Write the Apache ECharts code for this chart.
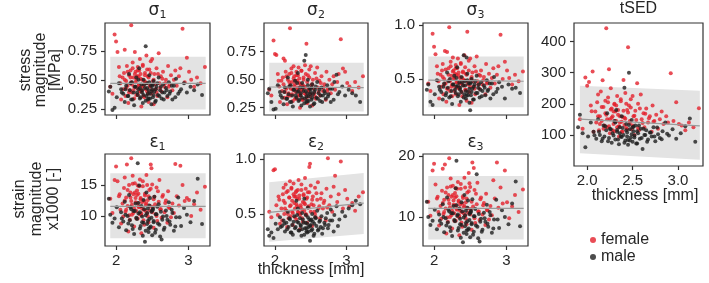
<!DOCTYPE html>
<html>
<head>
<meta charset="utf-8">
<script src="https://cdn.jsdelivr.net/npm/echarts@6/dist/echarts.min.js"></script>
<style>html,body{margin:0;padding:0;background:#fff}#main{width:709px;height:283px}</style>
</head>
<body>
<div id="main"></div>
<script>
// thickness of each subject [mm], shared by all panels
var femaleThickness = [1.92,1.95,1.98,2.00,2.02,2.04,2.06,2.07,2.09,2.10,
  2.11,2.12,2.13,2.14,2.15,2.16,2.17,2.18,2.19,2.20,
  2.21,2.21,2.22,2.23,2.24,2.25,2.25,2.26,2.27,2.28,
  2.29,2.30,2.30,2.31,2.32,2.33,2.34,2.35,2.35,2.36,
  2.37,2.38,2.39,2.40,2.41,2.42,2.43,2.44,2.45,2.46,
  2.47,2.48,2.49,2.50,2.51,2.52,2.53,2.55,2.56,2.57,
  2.59,2.60,2.62,2.63,2.65,2.67,2.69,2.71,2.72,2.74,
  2.76,2.78,2.80,2.82,2.84,2.87,2.89,2.92,2.95,2.98,
  3.01,3.04,3.08,3.12,3.17,3.23,
  2.12,2.14,2.16,2.18,2.20,2.22,2.23,2.24,2.26,2.27,
  2.28,2.29,2.31,2.32,2.33,2.34,2.36,2.37,2.38,2.39,
  2.40,2.41,2.42,2.43,2.44,2.45,2.47,2.48,2.50,2.52,
  2.54,2.56,2.58,2.61,2.64,2.68,2.73,2.05,2.30,2.35];
var maleThickness = [1.90,1.92,1.95,1.98,2.01,2.04,2.07,2.10,2.12,2.14,
  2.16,2.18,2.19,2.21,2.22,2.24,2.25,2.27,2.28,2.30,
  2.31,2.32,2.33,2.35,2.36,2.37,2.38,2.40,2.41,2.42,
  2.43,2.44,2.45,2.46,2.47,2.48,2.49,2.50,2.51,2.52,
  2.53,2.55,2.56,2.58,2.59,2.61,2.63,2.65,2.67,2.69,
  2.71,2.73,2.75,2.78,2.80,2.83,2.86,2.90,2.94,2.98,
  3.03,3.08,3.13,3.19,
  2.13,2.17,2.20,2.23,2.26,2.29,2.31,2.34,2.36,2.39,
  2.41,2.43,2.44,2.46,2.47,2.49,2.50,2.52,2.54,2.55,
  2.57,2.60,2.62,2.64,2.66,2.70,2.74,2.77,2.82,2.88,
  2.33,2.38,2.45,2.51,2.08];

var sigma1Female = [0.44,0.38,0.89,0.83,0.74,0.61,0.47,0.33,0.52,0.42,
  0.56,0.76,0.36,0.49,0.62,0.45,0.30,0.54,0.41,0.58,
  0.97,0.48,0.39,0.65,0.52,0.44,0.34,0.74,0.57,0.50,
  0.43,0.61,0.37,0.53,0.46,0.68,0.55,0.41,0.27,0.50,
  0.63,0.45,0.35,0.56,0.48,0.71,0.40,0.53,0.31,0.59,
  0.44,0.66,0.38,0.68,0.49,0.29,0.55,0.42,0.60,0.36,
  0.73,0.47,0.53,0.40,0.57,0.44,0.50,0.35,0.62,0.46,
  0.54,0.41,0.50,0.58,0.45,0.53,0.60,0.94,0.48,0.69,
  0.57,0.50,0.44,0.52,0.47,0.61,
  0.50,0.43,0.57,0.39,0.52,0.46,0.60,0.41,0.55,0.48,
  0.37,0.53,0.45,0.58,0.40,0.51,0.44,0.62,0.36,0.49,
  0.54,0.42,0.47,0.59,0.38,0.52,0.45,0.56,0.41,0.50,
  0.46,0.39,0.55,0.43,0.51,0.47,0.44,0.53,0.58,0.40];
var sigma1Male = [0.40,0.44,0.24,0.26,0.35,0.47,0.42,0.38,0.31,0.45,
  0.36,0.55,0.41,0.33,0.48,0.39,0.28,0.44,0.52,0.37,
  0.42,0.60,0.34,0.46,0.39,0.30,0.50,0.43,0.79,0.36,
  0.47,0.33,0.41,0.54,0.38,0.45,0.29,0.42,0.35,0.49,
  0.40,0.32,0.44,0.37,0.52,0.41,0.34,0.46,0.39,0.43,
  0.36,0.48,0.40,0.33,0.45,0.51,0.38,0.42,0.47,0.39,
  0.44,0.41,0.46,0.37,
  0.42,0.36,0.47,0.33,0.44,0.39,0.50,0.35,0.41,0.46,
  0.32,0.43,0.38,0.48,0.34,0.40,0.45,0.37,0.31,0.42,
  0.47,0.36,0.44,0.39,0.33,0.41,0.38,0.45,0.35,0.40,
  0.43,0.37,0.34,0.46,0.39];

var sigma2Female = [0.41,0.36,0.85,0.73,0.72,0.55,0.44,0.30,0.49,0.40,
  0.52,0.69,0.34,0.67,0.57,0.42,0.28,0.50,0.38,0.55,
  0.96,0.45,0.36,0.60,0.48,0.41,0.31,0.62,0.53,0.46,
  0.39,0.57,0.33,0.49,0.43,0.61,0.51,0.37,0.25,0.46,
  0.58,0.41,0.32,0.52,0.44,0.63,0.37,0.82,0.29,0.54,
  0.40,0.59,0.35,0.62,0.45,0.27,0.50,0.38,0.56,0.33,
  0.61,0.43,0.49,0.36,0.53,0.40,0.46,0.32,0.57,0.42,
  0.50,0.38,0.46,0.53,0.41,0.48,0.55,0.86,0.60,0.57,
  0.47,0.44,0.40,0.48,0.43,0.53,
  0.46,0.39,0.53,0.35,0.48,0.42,0.56,0.37,0.51,0.44,
  0.33,0.49,0.41,0.54,0.36,0.47,0.40,0.58,0.32,0.45,
  0.50,0.38,0.43,0.55,0.34,0.48,0.41,0.52,0.37,0.46,
  0.42,0.35,0.51,0.39,0.47,0.43,0.40,0.49,0.54,0.36];
var sigma2Male = [0.38,0.42,0.30,0.235,0.24,0.45,0.39,0.34,0.28,0.43,
  0.33,0.52,0.37,0.30,0.45,0.36,0.26,0.41,0.49,0.34,
  0.39,0.56,0.31,0.43,0.36,0.27,0.47,0.40,0.67,0.33,
  0.72,0.30,0.38,0.50,0.35,0.42,0.26,0.39,0.32,0.46,
  0.37,0.29,0.41,0.34,0.48,0.38,0.31,0.43,0.36,0.40,
  0.33,0.45,0.37,0.30,0.42,0.48,0.545,0.39,0.44,0.36,
  0.41,0.38,0.36,0.30,
  0.39,0.33,0.44,0.30,0.41,0.36,0.47,0.32,0.38,0.43,
  0.29,0.40,0.35,0.45,0.31,0.37,0.42,0.34,0.28,0.39,
  0.44,0.33,0.41,0.36,0.30,0.38,0.35,0.42,0.32,0.37,
  0.40,0.34,0.31,0.43,0.36];

var sigma3Female = [0.46,0.39,0.92,0.80,0.73,0.62,0.48,0.32,0.54,0.43,
  0.58,0.64,0.36,0.50,0.76,0.46,0.29,0.75,0.41,0.60,
  0.98,0.49,0.39,0.66,0.53,0.45,0.34,0.70,0.58,0.51,
  0.43,0.63,0.36,0.54,0.47,0.69,0.56,0.41,0.26,0.51,
  0.65,0.46,0.34,0.57,0.49,0.72,0.40,0.55,0.30,0.94,
  0.45,0.67,0.38,0.69,0.50,0.28,0.56,0.43,0.62,0.36,
  0.71,0.48,0.54,0.41,0.58,0.45,0.52,0.36,0.64,0.47,
  0.55,0.42,0.51,0.60,0.46,0.54,0.62,0.91,0.50,0.66,
  0.58,0.51,0.45,0.54,0.48,0.57,
  0.52,0.45,0.59,0.41,0.54,0.48,0.62,0.43,0.57,0.50,
  0.39,0.55,0.47,0.60,0.42,0.53,0.46,0.64,0.38,0.51,
  0.56,0.44,0.49,0.61,0.40,0.54,0.47,0.58,0.43,0.52,
  0.48,0.41,0.57,0.45,0.53,0.49,0.46,0.55,0.60,0.42];
var sigma3Male = [0.40,0.45,0.29,0.26,0.36,0.49,0.43,0.38,0.31,0.46,
  0.35,0.56,0.42,0.33,0.50,0.39,0.27,0.45,0.53,0.37,
  0.43,0.61,0.34,0.47,0.40,0.29,0.52,0.44,0.72,0.36,
  0.48,0.32,0.70,0.55,0.38,0.46,0.28,0.21,0.35,0.50,
  0.41,0.31,0.45,0.37,0.53,0.42,0.33,0.47,0.39,0.44,
  0.35,0.49,0.40,0.32,0.46,0.52,0.38,0.47,0.43,0.32,
  0.45,0.41,0.42,0.37,
  0.43,0.37,0.48,0.34,0.45,0.40,0.51,0.36,0.42,0.47,
  0.33,0.44,0.39,0.49,0.35,0.41,0.46,0.38,0.31,0.43,
  0.48,0.37,0.45,0.40,0.34,0.42,0.39,0.46,0.36,0.41,
  0.44,0.38,0.35,0.47,0.40];

var tsedFemale = [150,120,285,258,270,195,304,110,175,140,
  205,230,115,160,240,145,276,190,130,210,
  443,165,125,220,311,150,105,250,185,160,
  135,200,112,175,145,225,180,128,95,160,
  208,142,110,277,155,235,122,180,382,195,
  138,215,118,225,160,100,178,266,200,115,
  230,150,170,125,185,140,160,110,195,145,
  165,120,150,175,135,160,140,298,145,205,
  135,130,115,140,125,186,
  160,135,190,120,170,150,205,128,182,155,
  115,175,145,195,125,165,140,215,110,158,
  178,132,152,200,118,172,145,188,130,162,
  148,122,185,138,168,154,142,176,198,126];
var tsedMale = [125,165,105,60,95,140,110,88,150,100,
  80,130,95,115,170,90,120,75,105,145,
  85,180,110,70,125,95,160,100,252,82,
  135,108,68,300,118,92,148,78,112,98,
  130,72,105,88,120,55,100,115,85,108,
  95,125,80,102,90,112,140,98,118,88,
  105,128,153,78,
  110,88,128,80,118,98,140,85,105,122,
  75,115,95,132,82,102,125,92,72,112,
  130,90,120,100,78,108,95,124,86,104,
  116,93,84,126,99];

var eps1Female = [12.8,10.5,15.8,18.0,15.6,13.2,11.0,8.8,12.0,9.9,
  14.5,16.2,10.7,13.0,18.3,11.6,7.5,15.0,9.4,13.8,
  19.3,12.4,10.2,16.5,13.5,11.2,8.3,15.3,12.9,10.8,
  14.1,12.1,9.6,13.6,11.4,15.9,12.7,10.1,7.2,12.2,
  14.8,11.0,8.6,13.3,11.8,16.6,10.4,12.6,9.0,14.2,
  10.9,18.3,17.7,15.1,11.5,8.1,13.1,10.3,14.6,9.2,
  12.3,15.8,11.1,9.7,13.4,10.6,12.5,8.9,14.0,11.3,
  9.8,12.0,10.5,18.4,13.2,11.7,18.1,15.0,12.4,12.9,
  12.6,10.0,11.9,13.8,11.0,14.7,
  12.5,11.0,14.2,10.1,13.0,11.8,15.2,10.5,13.8,12.2,
  9.6,13.4,11.5,14.8,10.3,12.9,11.2,15.6,9.3,12.4,
  13.6,10.8,12.0,15.0,9.9,13.2,11.6,14.4,10.6,12.7,
  11.9,10.0,14.0,11.1,13.1,12.1,11.4,13.5,14.9,10.4];
var eps1Male = [12.8,10.2,8.9,9.6,11.4,8.2,10.6,9.1,12.3,7.7,
  10.0,13.4,9.3,11.1,8.5,10.8,7.1,12.0,9.7,18.5,
  10.4,14.9,8.0,11.6,9.0,6.8,12.6,5.85,10.1,13.8,
  8.7,11.2,7.4,9.5,12.9,8.3,10.7,6.9,11.0,9.2,
  13.1,7.8,10.3,8.8,11.9,6.7,6.2,9.9,8.1,10.9,
  9.4,12.2,8.6,10.5,7.6,9.8,13.0,8.4,11.3,10.2,
  9.0,12.4,16.0,8.7,
  10.2,8.8,11.4,7.9,10.8,9.5,12.1,8.4,9.9,11.1,
  7.6,10.5,9.2,11.7,8.1,9.7,10.9,9.0,7.3,10.3,
  11.5,8.6,10.7,9.4,7.8,10.0,9.1,11.0,8.3,9.8,
  10.6,8.9,8.0,11.2,9.6];

var eps2Female = [0.52,0.47,0.90,0.91,0.58,0.49,0.63,0.41,0.55,0.44,
  0.68,0.74,0.50,0.60,0.77,0.53,0.38,0.71,0.46,0.65,
  0.80,0.57,0.48,0.73,0.62,0.51,0.40,0.78,0.66,0.55,
  0.70,0.59,0.45,0.64,0.52,0.81,0.67,0.49,0.36,0.58,
  0.72,0.54,0.43,0.68,0.60,0.83,0.50,0.64,0.42,0.70,
  0.56,0.93,0.96,0.76,0.59,0.39,0.66,0.52,0.74,0.47,
  0.63,0.79,0.57,0.46,0.69,0.55,0.62,0.44,0.73,1.01,
  0.58,0.66,0.52,0.75,0.85,0.61,0.68,0.98,0.55,0.72,
  0.64,0.57,0.60,0.53,0.66,0.70,
  0.62,0.55,0.70,0.50,0.65,0.58,0.74,0.52,0.68,0.60,
  0.47,0.66,0.57,0.72,0.51,0.64,0.56,0.77,0.46,0.61,
  0.67,0.53,0.59,0.73,0.49,0.65,0.57,0.70,0.52,0.63,
  0.58,0.50,0.69,0.55,0.64,0.60,0.56,0.66,0.71,0.51];
var eps2Male = [0.36,0.30,0.33,0.28,0.41,0.36,0.47,0.39,0.44,0.34,
  0.42,0.52,0.38,0.45,0.33,0.40,0.31,0.48,0.37,0.62,
  0.43,0.55,0.35,0.46,0.39,0.30,0.51,0.42,0.64,0.37,
  0.49,0.34,0.41,0.56,0.38,0.45,0.256,0.40,0.35,0.50,
  0.43,0.32,0.47,0.39,0.53,0.36,0.44,0.48,0.37,0.42,
  0.46,0.51,0.40,0.54,0.44,0.49,0.57,0.45,0.52,0.48,
  0.55,0.58,0.62,0.59,
  0.41,0.36,0.46,0.33,0.43,0.38,0.49,0.35,0.40,0.45,
  0.31,0.42,0.37,0.47,0.34,0.39,0.44,0.36,0.30,0.41,
  0.46,0.35,0.43,0.38,0.32,0.40,0.37,0.44,0.34,0.39,
  0.42,0.36,0.33,0.45,0.38];

var eps3Female = [12.5,10.2,17.6,18.7,15.3,13.0,10.8,8.6,11.8,9.7,
  14.3,17.9,10.5,12.8,18.6,11.4,7.3,14.8,9.2,13.6,
  19.6,12.2,10.0,16.3,13.3,11.0,8.1,15.1,12.7,10.6,
  13.9,11.9,9.4,13.4,11.2,15.7,12.5,9.9,7.0,12.0,
  14.6,10.8,8.4,13.1,11.6,16.4,10.2,12.4,8.8,14.0,
  10.7,17.2,15.5,14.9,11.3,7.9,18.9,18.0,14.4,9.0,
  12.1,15.6,10.9,9.5,13.2,10.4,12.3,8.7,13.8,11.1,
  9.6,11.8,10.3,16.0,13.0,18.9,11.5,14.8,12.2,17.6,
  12.4,9.8,11.7,13.6,10.8,14.5,
  12.3,10.8,14.0,9.9,12.8,11.6,15.0,10.3,13.6,12.0,
  9.4,13.2,11.3,14.6,10.1,12.7,11.0,15.4,9.1,12.2,
  13.4,10.6,11.8,14.8,9.7,13.0,11.4,14.2,10.4,12.5,
  11.7,9.8,13.8,10.9,12.9,11.9,11.2,13.3,14.7,10.2];
var eps3Male = [12.5,10.0,8.7,9.4,11.2,8.0,10.4,8.9,12.1,7.5,
  9.8,13.2,9.1,10.9,8.3,10.6,6.9,11.8,9.5,14.7,
  19.2,10.2,7.8,11.4,8.8,6.6,12.4,5.85,9.9,13.6,
  8.5,11.0,7.2,9.3,12.7,8.1,10.5,6.7,10.8,9.0,
  12.9,7.6,10.1,8.6,17.0,6.5,6.0,9.7,7.9,10.7,
  9.2,12.0,8.4,10.3,7.4,9.6,12.8,8.2,11.1,10.0,
  8.8,12.2,15.8,8.5,
  10.0,8.6,11.2,7.7,10.6,9.3,11.9,8.2,9.7,10.9,
  7.4,10.3,9.0,11.5,7.9,9.5,10.7,8.8,7.1,10.1,
  11.3,8.4,10.5,9.2,7.6,9.8,8.9,10.8,8.1,9.6,
  10.4,8.7,7.8,11.0,9.4];

// regression line and band, at the two ends of the thickness range
var bandX = [1.92, 3.24];
var sigma1Fit = [0.47, 0.47],   sigma1Lo = [0.245, 0.245], sigma1Hi = [0.70, 0.70];
var sigma2Fit = [0.435, 0.43],  sigma2Lo = [0.217, 0.217], sigma2Hi = [0.652, 0.652];
var sigma3Fit = [0.49, 0.48],   sigma3Lo = [0.24, 0.24],   sigma3Hi = [0.71, 0.71];
var tsedFit = [151, 129],       tsedLo = [41, 20],         tsedHi = [258, 242];
var eps1Fit = [11.56, 11.56],   eps1Lo = [6.4, 6.4],       eps1Hi = [16.9, 16.9];
var eps2Fit = [0.515, 0.60],    eps2Lo = [0.247, 0.317],   eps2Hi = [0.79, 0.875];
var eps3Fit = [11.4, 11.4],     eps3Lo = [6.3, 6.3],       eps3Hi = [16.7, 16.7];

// tick labels
var thicknessTicks = [2, 3];
var tsedThicknessTicks = [2.0, 2.5, 3.0];
var sigma12Ticks = [0.25, 0.50, 0.75];
var sigma3Ticks = [0.5, 1.0];
var tsedTicks = [100, 200, 300, 400];
var eps1Ticks = [10, 15];
var eps2Ticks = [0.5, 1.0];
var eps3Ticks = [10, 20];

var dom = document.getElementById('main');
var myChart = echarts.init(dom);

var FONT = 'Liberation Sans';
var MATH = 'DejaVu Sans';
var TXT = '#262626';
var RED = '#e3202c';
var BLK = '#1f1f1f';

var panels = [
  {g: 'σ', sub: '1', ty: 11, box: [105, 23, 105, 92], x: [1.847, 3.30], xt: thicknessTicks, xd: 0, xl: false,
   y: [0.197, 0.99], yt: sigma12Ticks, yd: 2, f: sigma1Female, m: sigma1Male, fit: sigma1Fit, lo: sigma1Lo, hi: sigma1Hi},
  {g: 'σ', sub: '2', ty: 11, box: [264, 23, 104, 92], x: [1.847, 3.30], xt: thicknessTicks, xd: 0, xl: false,
   y: [0.185, 1.006], yt: sigma12Ticks, yd: 2, f: sigma2Female, m: sigma2Male, fit: sigma2Fit, lo: sigma2Lo, hi: sigma2Hi},
  {g: 'σ', sub: '3', ty: 11, box: [423, 23, 105, 92], x: [1.847, 3.30], xt: thicknessTicks, xd: 0, xl: false,
   y: [0.167, 1.02], yt: sigma3Ticks, yd: 1, f: sigma3Female, m: sigma3Male, fit: sigma3Fit, lo: sigma3Lo, hi: sigma3Hi},
  {g: 'tSED', sub: '', ty: 9, box: [574, 23, 129, 143], x: [1.855, 3.275], xt: tsedThicknessTicks, xd: 1, xl: true,
   y: [0, 460], yt: tsedTicks, yd: 0, f: tsedFemale, m: tsedMale, fit: tsedFit, lo: tsedLo, hi: tsedHi},
  {g: 'ε', sub: '1', ty: 143, box: [105, 154, 105, 92], x: [1.847, 3.30], xt: thicknessTicks, xd: 0, xl: true,
   y: [5.16, 20.0], yt: eps1Ticks, yd: 0, f: eps1Female, m: eps1Male, fit: eps1Fit, lo: eps1Lo, hi: eps1Hi},
  {g: 'ε', sub: '2', ty: 143, box: [264, 154, 104, 92], x: [1.847, 3.30], xt: thicknessTicks, xd: 0, xl: true,
   y: [0.207, 1.049], yt: eps2Ticks, yd: 1, f: eps2Female, m: eps2Male, fit: eps2Fit, lo: eps2Lo, hi: eps2Hi},
  {g: 'ε', sub: '3', ty: 143, box: [423, 154, 105, 92], x: [1.847, 3.30], xt: thicknessTicks, xd: 0, xl: true,
   y: [5.25, 20.3], yt: eps3Ticks, yd: 0, f: eps3Female, m: eps3Male, fit: eps3Fit, lo: eps3Lo, hi: eps3Hi}
];

var grids = [], xAxes = [], yAxes = [], series = [], graphics = [];

panels.forEach(function (p, i) {
  grids.push({left: p.box[0], top: p.box[1], width: p.box[2], height: p.box[3],
    show: true, borderColor: '#333', borderWidth: 1.2, backgroundColor: 'transparent'});
  xAxes.push({gridIndex: i, type: 'value', min: p.x[0], max: p.x[1],
    axisLine: {show: false}, splitLine: {show: false},
    axisTick: {show: true, length: 4, customValues: p.xt, lineStyle: {color: '#333', width: 1.2}},
    axisLabel: {show: p.xl, customValues: p.xt, margin: 7, fontFamily: FONT, fontSize: 15, color: TXT,
      formatter: function (v) { return Number(v).toFixed(p.xd); }}});
  yAxes.push({gridIndex: i, type: 'value', min: p.y[0], max: p.y[1],
    axisLine: {show: false}, splitLine: {show: false},
    axisTick: {show: true, length: 4, customValues: p.yt, lineStyle: {color: '#333', width: 1.2}},
    axisLabel: {show: true, customValues: p.yt, margin: 8, fontFamily: FONT, fontSize: 15, color: TXT,
      formatter: function (v) { return Number(v).toFixed(p.yd); }}});

  series.push({type: 'custom', xAxisIndex: i, yAxisIndex: i, silent: true,
    data: bandX.map(function (x, k) { return [x, p.lo[k], p.hi[k]]; }),
    encode: {x: 0, y: [1, 2]},
    renderItem: function (params, api) {
      if (params.dataIndex !== 0) return;
      var pts = [];
      bandX.forEach(function (x, k) { pts.push(api.coord([x, p.lo[k]])); });
      for (var k = bandX.length - 1; k >= 0; k--) pts.push(api.coord([bandX[k], p.hi[k]]));
      return {type: 'polygon', shape: {points: pts}, style: {fill: '#e3e3e3'}};
    }});
  series.push({type: 'line', xAxisIndex: i, yAxisIndex: i, silent: true, symbol: 'none',
    data: bandX.map(function (x, k) { return [x, p.fit[k]]; }),
    lineStyle: {color: '#9a9a9a', width: 1.2}});
  series.push({name: 'female', type: 'scatter', xAxisIndex: i, yAxisIndex: i, symbolSize: 4,
    data: femaleThickness.map(function (x, k) { return [x, p.f[k]]; }),
    itemStyle: {color: RED}});
  series.push({name: 'male', type: 'scatter', xAxisIndex: i, yAxisIndex: i, symbolSize: 4,
    data: maleThickness.map(function (x, k) { return [x, p.m[k]]; }),
    itemStyle: {color: BLK}});

  // panel title, greek letter with subscript index
  graphics.push({type: 'text', x: p.box[0] + p.box[2] / 2, y: p.ty,
    style: {text: p.sub ? '{g|' + p.g + '}{s|' + p.sub + '}' : p.g,
      font: '16px ' + FONT, fill: TXT, textAlign: 'center', textVerticalAlign: 'middle',
      rich: {
        g: {fontFamily: MATH, fontSize: 17, lineHeight: 20, fill: TXT},
        s: {fontFamily: MATH, fontSize: 11, lineHeight: 11, verticalAlign: 'bottom', fill: TXT}
      }}});
});

graphics.push({type: 'text', x: 41, y: 70, rotation: Math.PI / 2,
  style: {text: 'stress\nmagnitude\n[MPa]', fontFamily: FONT, fontSize: 16, lineHeight: 15, fill: TXT,
    textAlign: 'center', textVerticalAlign: 'middle'}});
graphics.push({type: 'text', x: 37, y: 199, rotation: Math.PI / 2,
  style: {text: 'strain\nmagnitude\nx1000 [-]', fontFamily: FONT, fontSize: 16, lineHeight: 17, fill: TXT,
    textAlign: 'center', textVerticalAlign: 'middle'}});
graphics.push({type: 'text', x: 311, y: 270,
  style: {text: 'thickness [mm]', fontFamily: FONT, fontSize: 16, fill: TXT, textAlign: 'center', textVerticalAlign: 'middle'}});
graphics.push({type: 'text', x: 645, y: 196,
  style: {text: 'thickness [mm]', fontFamily: FONT, fontSize: 16, fill: TXT, textAlign: 'center', textVerticalAlign: 'middle'}});

var option = {
  backgroundColor: '#fff',
  animation: false,
  grid: grids,
  xAxis: xAxes,
  yAxis: yAxes,
  series: series,
  graphic: graphics,
  legend: {data: ['female', 'male'], orient: 'vertical', left: 585, top: 227, selectedMode: false,
    icon: 'circle', itemWidth: 6, itemHeight: 6, itemGap: 1,
    textStyle: {fontFamily: FONT, fontSize: 16, color: TXT}}
};

window.onresize = function () { myChart.resize(); };
myChart.setOption(option);
</script>
</body>
</html>
